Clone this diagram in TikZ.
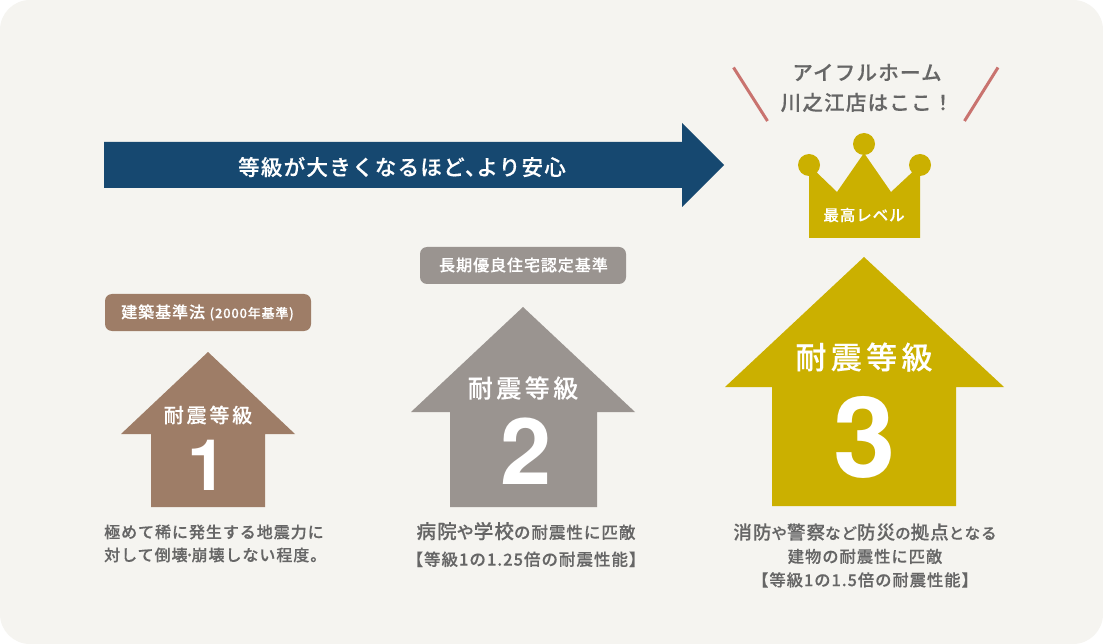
\documentclass[tikz,border=0pt]{standalone}
\usepackage{fontspec}
\setmainfont{Noto Sans CJK JP}
\newfontfamily\jpfont{Noto Sans CJK JP Medium}[LetterSpace=6,FakeBold=0.3]
\newfontfamily\jpwide{Noto Sans CJK JP Medium}[LetterSpace=14,FakeBold=0.2]
\newfontfamily\numfont{TeX Gyre Heros}
\definecolor{paper}{HTML}{F5F4F0}
\definecolor{navy}{HTML}{164870}
\definecolor{brown}{HTML}{9E7D67}
\definecolor{stone}{HTML}{9A9490}
\definecolor{gold}{HTML}{CBB000}
\definecolor{rose}{HTML}{C9736F}
\definecolor{ink}{HTML}{666666}
\newcommand{\kana}[1]{{\fontsize{15.5}{15.5}\selectfont #1}}
\newcommand{\kanji}[1]{{\fontsize{18.5}{18.5}\selectfont #1}}
\tikzset{
  plate/.style={fill=#1, draw=none, rounded corners=7pt},
  note/.style={text=ink, align=center, inner sep=0pt},
  tag/.style={text=white, font=\jpfont\fontsize{16}{20}\selectfont, inner sep=0pt},
  title/.style={text=white, inner sep=0pt},
  grade/.style={text=white, inner sep=0pt}
}
\begin{document}
\begin{tikzpicture}[x=1pt,y=-1pt]
  \useasboundingbox (0,0) rectangle (1103,644);
  \fill[white] (0,0) rectangle (1103,644);
  \fill[paper, rounded corners=30pt] (0,0) rectangle (1103,644);

  % arrow
  \fill[navy] (104,142) -- (682,142) -- (682,123) -- (724,165) -- (682,207) -- (682,188) -- (104,188) -- cycle;
  \node[title, font=\jpfont\fontsize{21.5}{26}\selectfont] (arrowtext) at (402,167) {等級が大きくなるほど、\hspace{-10pt}より安心};

  % houses
  \fill[brown] (208,352) -- (295,434) -- (265,434) -- (265,507) -- (151,507) -- (151,434) -- (121,434) -- cycle;
  \fill[stone] (523,307) -- (635,412) -- (597,412) -- (597,507) -- (450,507) -- (450,412) -- (411,412) -- cycle;
  \fill[gold] (864,257) -- (1004,387) -- (956,387) -- (956,506) -- (772,506) -- (772,387) -- (725,387) -- cycle;

  % crown
  \fill[gold] (809,238) -- (809,165) -- (837,192) -- (864,153) -- (891,192) -- (920,165) -- (920,238) -- cycle;
  \fill[gold] (809,165) circle (11);
  \fill[gold] (864,144) circle (11);
  \fill[gold] (920,165) circle (11);

  \draw[rose, line width=3pt] (733.5,67.5) -- (767.5,121);
  \draw[rose, line width=3pt] (998,67.5) -- (964.5,121);

  % tags
  \fill[plate=brown] (105,294) rectangle (311,331);
  \fill[plate=stone] (420,247) rectangle (626,284);
  \node[tag] (tag1) at (207.5,312.5) {建築基準法 {\fontsize{13}{16}\selectfont (2000年基準)}};
  \node[tag] (tag2) at (523.5,265) {長期優良住宅認定基準};

  \begin{scope}[every node/.style={title}]
    \node[font=\jpwide\fontsize{20}{24}\selectfont] (name1) at (208,415) {耐震等級};
    \node[font=\jpwide\fontsize{25}{30}\selectfont] (name2) at (523,388) {耐震等級};
    \node[font=\jpwide\fontsize{31}{36}\selectfont] (name3) at (864,357) {耐震等級};
    \node[font=\jpfont\fontsize{15.5}{18}\selectfont] (top) at (864,215) {最高レベル};
  \end{scope}

  \node[grade, font=\numfont\bfseries\fontsize{71}{72}\selectfont] (one) at (207,465) {1};
  \node[grade, font=\numfont\bfseries\fontsize{92}{92}\selectfont] (two) at (526,451.5) {2};
  \node[grade, font=\numfont\bfseries\fontsize{112}{112}\selectfont] (three) at (864.5,437) {3};

  % captions
  \node[note, font=\jpfont\fontsize{20.5}{30}\selectfont] (here) at (867,88) {アイフルホーム\\川之江店はここ！};
  \node[note, align=left, anchor=west, font=\jpfont\fontsize{16}{23}\selectfont] (cap1) at (104,543.5) {極めて稀に発生する地震力に\\対して倒壊\hspace{-2pt}･\hspace{-2pt}崩壊しない程度。};
  \node[note, font=\jpfont\fontsize{16.5}{27}\selectfont] (cap2) at (526,544.5) {{\fontsize{19.5}{19.5}\selectfont 病院}{\fontsize{17}{17}\selectfont や}{\fontsize{19.5}{19.5}\selectfont 学校}の耐震性に匹敵\\【等級1の1.25倍の耐震性能】};
  \node[note, font=\jpfont\fontsize{16.3}{23.5}\selectfont] (cap3) at (865,555.5) {\kanji{消防}\kana{や}\kanji{警察}\kana{など}\kanji{防災}\kana{の}\kanji{拠点}\kana{となる}\\建物の耐震性に匹敵\\【等級1の1.5倍の耐震性能】};
\end{tikzpicture}
\end{document}
